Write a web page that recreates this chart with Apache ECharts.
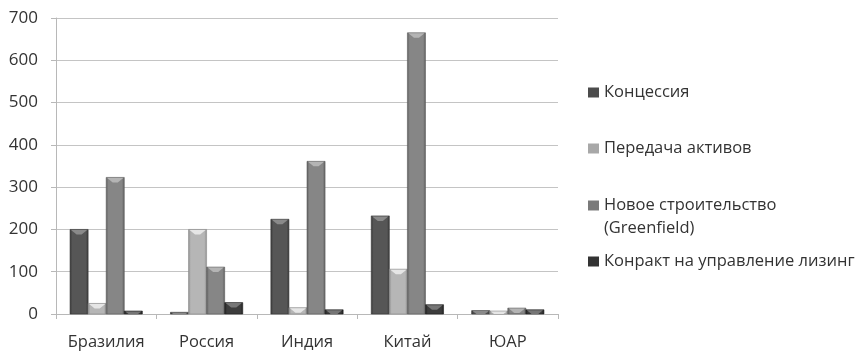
<!DOCTYPE html>
<html>
<head>
<meta charset="utf-8">
<script src="https://cdn.jsdelivr.net/npm/echarts@6/dist/echarts.min.js"></script>
<style>
  html, body { margin: 0; padding: 0; background: #fff; }
  #chart { width: 859px; height: 351px; }
</style>
</head>
<body>
<div id="chart"></div>
<script>
// Countries on the category axis
const countries = ['Бразилия', 'Россия', 'Индия', 'Китай', 'ЮАР'];

// Series names (legend entries)
const seriesNames = [
  'Концессия',
  'Передача активов',
  'Новое строительство\n(Greenfield)',
  'Конракт на управление лизинг'
];

// Values per series, one per country
const concession = [200, 4, 224, 232, 8];
const assetTransfer = [25, 200, 15, 106, 7];
const greenfield = [323, 111, 361, 665, 14];
const leasing = [7, 27, 10, 22, 10];

// Value-axis ticks
const yMin = 0, yMax = 700, yStep = 100;

const seriesValues = [concession, assetTransfer, greenfield, leasing];

// Grey shades per series: body, darker edges, lighter top bevel
const palette = [
  { mid: '#565656', edge: '#363636', bevel: '#8a8a8a', icon: '#4c4c4c' },
  { mid: '#b6b6b6', edge: '#8c8c8c', bevel: '#e6e6e6', icon: '#a8a8a8' },
  { mid: '#868686', edge: '#5c5c5c', bevel: '#b4b4b4', icon: '#7a7a7a' },
  { mid: '#3c3c3c', edge: '#1e1e1e', bevel: '#767676', icon: '#333333' }
];

const font = 'Open Sans, Lato, sans-serif';
const groupShare = 0.72;            // part of a category band taken by the bar group
const legendTops = [79, 135, 166, 248];

function bodyFill(c) {
  return new echarts.graphic.LinearGradient(0, 0, 1, 0, [
    { offset: 0, color: c.edge },
    { offset: 0.14, color: c.mid },
    { offset: 0.86, color: c.mid },
    { offset: 1, color: c.edge }
  ]);
}

// Bevelled bar drawn from the axis scales: body plus a light chevron cap
function makeRenderer(si) {
  const c = palette[si];
  const n = seriesNames.length;
  return function (params, api) {
    const cat = api.value(0);
    const val = api.value(1);
    const base = api.coord([cat, 0]);
    const top = api.coord([cat, val]);
    const band = api.size([1, 0])[0];
    const bw = band * groupShare / n;
    const x0 = base[0] - band * groupShare / 2 + si * bw;
    const y0 = top[1];
    const h = base[1] - y0;
    const cap = Math.min(5, h);
    const inset = Math.min(bw / 3, cap * 1.1);
    return {
      type: 'group',
      children: [
        {
          type: 'rect',
          shape: { x: x0, y: y0, width: bw, height: h },
          style: { fill: bodyFill(c), stroke: c.edge, lineWidth: 0.6 }
        },
        {
          type: 'polygon',
          shape: {
            points: [
              [x0 + 1, y0 + 0.5],
              [x0 + bw - 1, y0 + 0.5],
              [x0 + bw - 1 - inset, y0 + cap],
              [x0 + 1 + inset, y0 + cap]
            ]
          },
          style: { fill: c.bevel }
        }
      ]
    };
  };
}

const chart = echarts.init(document.getElementById('chart'), null, { renderer: 'canvas' });

chart.setOption({
  animation: false,
  backgroundColor: '#ffffff',
  grid: { left: 56, right: 301, top: 18, bottom: 36, containLabel: false },
  xAxis: {
    type: 'category',
    data: countries,
    axisLine: { show: true, lineStyle: { color: '#b8b8b8', width: 1 } },
    axisTick: { show: true, length: 5, alignWithLabel: false, lineStyle: { color: '#b8b8b8' } },
    axisLabel: { color: '#333', fontSize: 16.5, fontFamily: font, margin: 20, interval: 0, hideOverlap: false }
  },
  yAxis: {
    type: 'value',
    min: yMin, max: yMax, interval: yStep,
    axisLine: { show: true, lineStyle: { color: '#b8b8b8', width: 1 } },
    axisTick: { show: true, length: 5, lineStyle: { color: '#b8b8b8' } },
    splitLine: { show: true, lineStyle: { color: '#c4c4c4', width: 1 } },
    axisLabel: { color: '#333', fontSize: 17, fontFamily: font, margin: 18 }
  },
  legend: seriesNames.map((name, i) => ({
    data: [{ name, itemStyle: { color: palette[i].icon, borderWidth: 0 } }],
    orient: 'vertical',
    left: 583,
    top: legendTops[i],
    icon: 'rect',
    itemWidth: 11,
    itemHeight: 10,
    itemGap: 0,
    selectedMode: false,
    // multi-line entry: a leading empty line keeps the marker on the first line
    formatter: (n) => (n.indexOf('\n') >= 0 ? '\n' + n : n),
    textStyle: Object.assign(
      { color: '#333', fontSize: 16.5, fontFamily: font },
      i === 2 ? { lineHeight: 23 } : {}
    )
  })),
  series: seriesNames.map((name, i) => ({
    name,
    type: 'custom',
    renderItem: makeRenderer(i),
    encode: { x: 0, y: 1 },
    itemStyle: { color: palette[i].icon },
    data: countries.map((c, j) => [j, seriesValues[i][j]]),
    emphasis: { disabled: true }
  }))
});
</script>
</body>
</html>
